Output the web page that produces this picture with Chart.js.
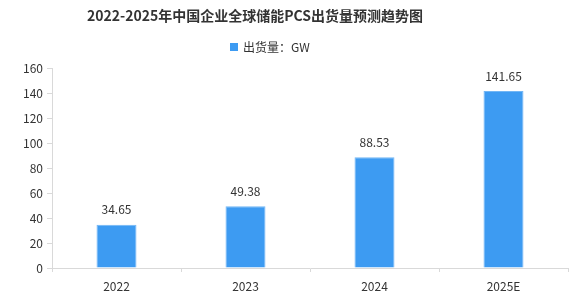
<!DOCTYPE html>
<html>
<head>
<meta charset="utf-8">
<script src="https://cdn.jsdelivr.net/npm/chart.js@4.4.1/dist/chart.umd.min.js"></script>
<style>
  html, body { margin: 0; padding: 0; background: #fff; }
  #wrap { width: 582px; height: 299px; }
</style>
</head>
<body>
<div id="wrap"><canvas id="pcsChart" width="582" height="299"></canvas></div>
<script>
// chart data
const years = ['2022', '2023', '2024', '2025E'];
const shipments = [34.65, 49.38, 88.53, 141.65];
const seriesName = '出货量：GW';
const chartTitle = '2022-2025年中国企业全球储能PCS出货量预测趋势图';

const FONT = "'Noto Sans CJK SC', 'Liberation Sans', sans-serif";
const BAR = '#3d9bf2';
const AXIS = '#d9d9d9';
const TXT = '#333333';

// title + legend drawn by hand (they sit left of centre in the original)
const headerPlugin = {
  id: 'header',
  afterDraw(chart) {
    const ctx = chart.ctx;
    ctx.save();
    ctx.fillStyle = TXT;
    ctx.font = 'bold 14px ' + FONT;
    ctx.textAlign = 'center';
    ctx.textBaseline = 'middle';
    ctx.fillText(chartTitle, 255, 16);

    const ds = chart.data.datasets[0];
    ctx.fillStyle = ds.backgroundColor;
    ctx.fillRect(230, 43, 8, 8);
    ctx.fillStyle = TXT;
    ctx.font = '12px ' + FONT;
    ctx.textAlign = 'left';
    ctx.fillText(ds.label, 243, 47);
    ctx.restore();
  }
};

// value labels above bars
const valueLabels = {
  id: 'valueLabels',
  afterDatasetsDraw(chart) {
    const ctx = chart.ctx;
    const meta = chart.getDatasetMeta(0);
    ctx.save();
    ctx.fillStyle = TXT;
    ctx.font = '12px ' + FONT;
    ctx.textAlign = 'center';
    ctx.textBaseline = 'middle';
    chart.data.datasets[0].data.forEach((val, i) => {
      const bar = meta.data[i];
      ctx.fillText(val.toFixed(2), bar.x, bar.y - 15);
    });
    ctx.restore();
  }
};

new Chart(document.getElementById('pcsChart'), {
  type: 'bar',
  data: {
    labels: years,
    datasets: [{
      label: seriesName,
      data: shipments,
      backgroundColor: BAR,
      borderColor: '#72b6f5',
      borderWidth: 1,
      categoryPercentage: 1,
      barPercentage: 0.31
    }]
  },
  options: {
    responsive: false,
    animation: false,
    layout: { padding: { top: 68, right: 14, bottom: 0, left: 0 } },
    plugins: {
      legend: { display: false },
      title: { display: false },
      tooltip: { enabled: false }
    },
    scales: {
      x: {
        afterFit: s => { s.height = 31; },
        grid: { drawOnChartArea: false, tickLength: 4, color: AXIS },
        border: { color: AXIS },
        ticks: { color: TXT, font: { family: FONT, size: 12 }, padding: 7 }
      },
      y: {
        min: 0,
        max: 160,
        afterFit: s => { s.width = 52; },
        grid: { drawOnChartArea: false, tickLength: 5, color: AXIS },
        border: { color: AXIS },
        ticks: { stepSize: 20, color: TXT, font: { family: FONT, size: 12 }, padding: 4 }
      }
    }
  },
  plugins: [headerPlugin, valueLabels]
});
</script>
</body>
</html>
